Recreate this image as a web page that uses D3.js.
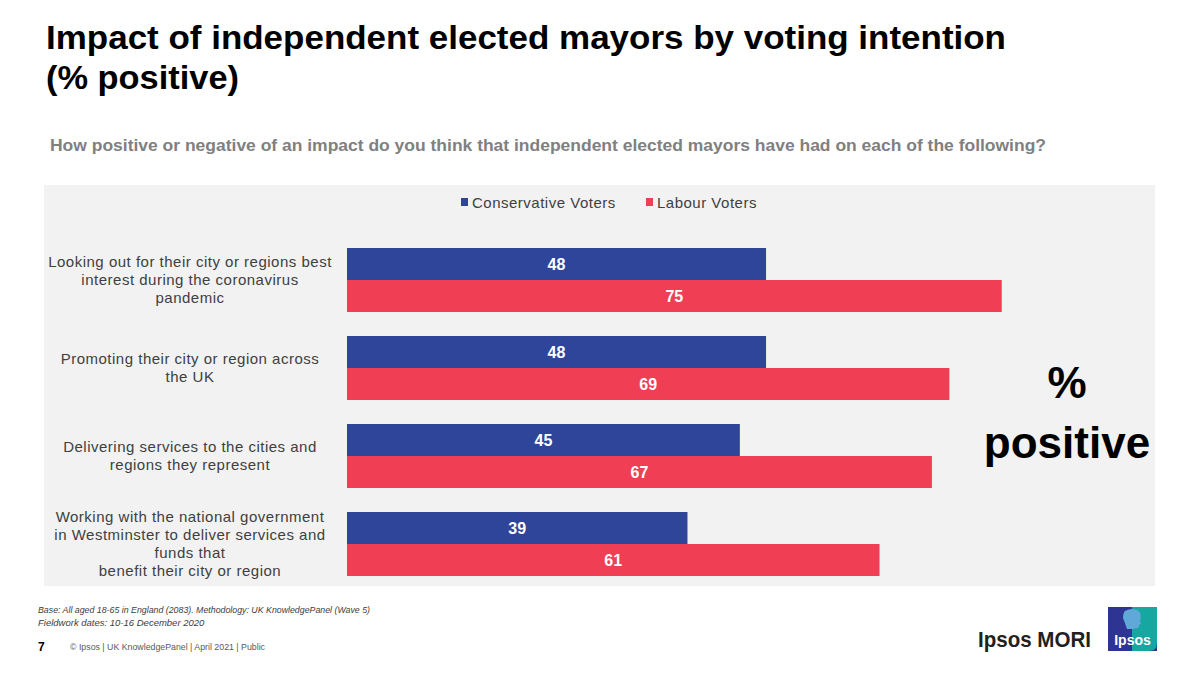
<!DOCTYPE html>
<html>
<head>
<meta charset="utf-8">
<script src="https://cdn.jsdelivr.net/npm/d3@7"></script>
<style>
  body { margin: 0; background: #fff; }
  svg { display: block; font-family: "Liberation Sans", Arial, sans-serif; }
</style>
</head>
<body>
<div id="chart"></div>
<script>
// data
var categories = [
  "Looking out for their city or regions best\ninterest during the coronavirus\npandemic",
  "Promoting their city or region across\nthe UK",
  "Delivering services to the cities and\nregions they represent",
  "Working with the national government\nin Westminster to deliver services and\nfunds that\nbenefit their city or region"
];
var seriesNames = ["Conservative Voters", "Labour Voters"];
var conservative = [48, 48, 45, 39];
var labour = [75, 69, 67, 61];
var seriesColors = ["#2f4599", "#f03f54"];

var width = 1200, height = 675;

var svg = d3.select("#chart")
  .append("svg")
    .attr("width", width)
    .attr("height", height);

// title + question
svg.append("text")
  .attr("x", 46).attr("y", 49)
  .attr("textLength", 960).attr("lengthAdjust", "spacingAndGlyphs")
  .style("font-size", "34px").style("font-weight", "bold").style("fill", "#000")
  .text("Impact of independent elected mayors by voting intention");
svg.append("text")
  .attr("x", 46).attr("y", 89)
  .attr("textLength", 193).attr("lengthAdjust", "spacingAndGlyphs")
  .style("font-size", "34px").style("font-weight", "bold").style("fill", "#000")
  .text("(% positive)");
svg.append("text")
  .attr("x", 50).attr("y", 151)
  .attr("textLength", 996).attr("lengthAdjust", "spacingAndGlyphs")
  .style("font-size", "16px").style("font-weight", "bold").style("fill", "#808080")
  .text("How positive or negative of an impact do you think that independent elected mayors have had on each of the following?");

// grey panel behind the chart
svg.append("rect")
  .attr("x", 44).attr("y", 185)
  .attr("width", 1111).attr("height", 401)
  .style("fill", "#f2f2f2");

// scales
var x = d3.scaleLinear()
  .domain([0, 100])
  .range([347, 1220]);

var y = d3.scaleBand()
  .domain(categories)
  .range([248, 576])
  .paddingInner(0.2727)
  .paddingOuter(0);

var ySub = d3.scaleBand()
  .domain(seriesNames)
  .range([0, y.bandwidth()]);

var color = d3.scaleOrdinal()
  .domain(seriesNames)
  .range(seriesColors);

var rows = categories.map(function (c, i) {
  return { cat: c, values: [
    { series: seriesNames[0], value: conservative[i] },
    { series: seriesNames[1], value: labour[i] }
  ]};
});

// legend
var legend = svg.append("g").attr("transform", "translate(461,202)");
var legendX = [0, 185];
seriesNames.forEach(function (s, i) {
  legend.append("rect")
    .attr("x", legendX[i]).attr("y", -4)
    .attr("width", 7).attr("height", 8)
    .style("fill", color(s));
  legend.append("text")
    .attr("x", legendX[i] + 11).attr("y", 5.5)
    .style("font-size", "15px").style("letter-spacing", "0.5px").style("fill", "#404040")
    .text(s);
});

// bars
var groups = svg.append("g")
  .selectAll("g")
  .data(rows)
  .enter()
  .append("g")
    .attr("transform", function (d) { return "translate(0," + y(d.cat) + ")"; });

groups.selectAll("rect")
  .data(function (d) { return d.values; })
  .enter()
  .append("rect")
    .attr("x", x(0))
    .attr("y", function (d) { return ySub(d.series); })
    .attr("width", function (d) { return x(d.value) - x(0); })
    .attr("height", ySub.bandwidth())
    .style("fill", function (d) { return color(d.series); });

groups.selectAll("text.val")
  .data(function (d) { return d.values; })
  .enter()
  .append("text")
    .attr("class", "val")
    .attr("x", function (d) { return (x(0) + x(d.value)) / 2; })
    .attr("y", function (d) { return ySub(d.series) + ySub.bandwidth() / 2 + 6; })
    .attr("text-anchor", "middle")
    .style("font-size", "16px").style("font-weight", "bold").style("fill", "#fff")
    .text(function (d) { return d.value; });

// category labels, centred on each group
groups.each(function (d) {
  var lines = d.cat.split("\n");
  var lh = 18;
  var mid = y.bandwidth() / 2;
  var t = d3.select(this).append("text")
    .attr("text-anchor", "middle")
    .style("font-size", "15px").style("letter-spacing", "0.5px").style("fill", "#404040");
  lines.forEach(function (l, i) {
    t.append("tspan")
      .attr("x", 190)
      .attr("y", mid + (i - (lines.length - 1) / 2) * lh + 5)
      .text(l);
  });
});

// side note
svg.append("text")
  .attr("x", 1067).attr("y", 398)
  .attr("text-anchor", "middle")
  .style("font-size", "44px").style("font-weight", "bold").style("fill", "#000")
  .text("%");
svg.append("text")
  .attr("x", 1067).attr("y", 458)
  .attr("text-anchor", "middle")
  .style("font-size", "44px").style("font-weight", "bold").style("fill", "#000")
  .text("positive");

// footnotes
svg.append("text")
  .attr("x", 38).attr("y", 613)
  .attr("textLength", 332).attr("lengthAdjust", "spacingAndGlyphs")
  .style("font-size", "9.5px").style("font-style", "italic").style("fill", "#404040")
  .text("Base: All aged 18-65 in England (2083). Methodology: UK KnowledgePanel (Wave 5)");
svg.append("text")
  .attr("x", 38).attr("y", 626)
  .style("font-size", "9.5px").style("font-style", "italic").style("fill", "#404040")
  .text("Fieldwork dates: 10-16 December 2020");
svg.append("text")
  .attr("x", 38).attr("y", 651)
  .style("font-size", "12px").style("font-weight", "bold").style("fill", "#000")
  .text("7");
svg.append("text")
  .attr("x", 70).attr("y", 650)
  .attr("textLength", 195).attr("lengthAdjust", "spacingAndGlyphs")
  .style("font-size", "9.5px").style("fill", "#595959")
  .text("\u00a9 Ipsos | UK KnowledgePanel | April 2021 | Public");

// Ipsos MORI wordmark + logo box
svg.append("text")
  .attr("x", 978).attr("y", 647)
  .attr("textLength", 113).attr("lengthAdjust", "spacingAndGlyphs")
  .style("font-size", "22px").style("font-weight", "bold").style("fill", "#231f20")
  .text("Ipsos MORI");

var logo = svg.append("g").attr("transform", "translate(1108,607)");
logo.append("rect").attr("width", 49).attr("height", 44).style("fill", "#2d3491");
logo.append("path")
  .attr("d", "M24,0 H49 V36 Q49,44 41,44 H24 Z")
  .style("fill", "#15a7a0");
logo.append("path")
  .attr("d", "M17,4 Q24,0 31,4 Q34,9 32,14 L33,17 L31,18 Q31,22 27,21 L26,22 H19 Q17,16 15,11 Q15,6 17,4 Z")
  .style("fill", "#5fa8d8");
logo.append("text")
  .attr("x", 24.5).attr("y", 38)
  .attr("text-anchor", "middle")
  .style("font-size", "14px").style("font-weight", "bold").style("fill", "#fff")
  .text("Ipsos");
</script>
</body>
</html>
